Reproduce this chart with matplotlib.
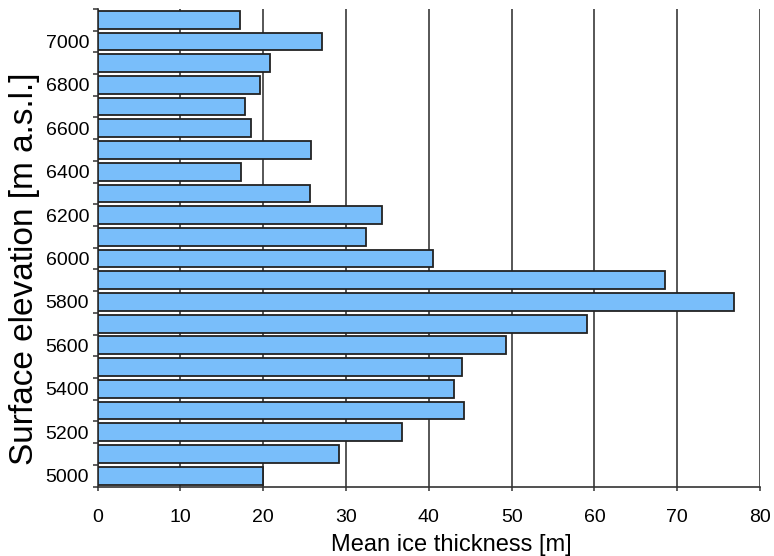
# mean ice thickness per 100 m elevation band
# horizontal bars, labels every 200 m

import matplotlib
matplotlib.use("Agg")
import matplotlib.pyplot as plt

plt.rcParams["font.family"] = ["Liberation Sans", "DejaVu Sans"]

# elevation bands (m a.s.l.), lowest first
elevations = [5000, 5100, 5200, 5300, 5400, 5500, 5600, 5700, 5800, 5900, 6000,
              6100, 6200, 6300, 6400, 6500, 6600, 6700, 6800, 6900, 7000, 7100]
# mean ice thickness (m) for each band
thickness = [20.0, 29.2, 36.8, 44.3, 43.1, 44.0, 49.3, 59.1, 76.9, 68.5, 40.5,
             32.4, 34.3, 25.6, 17.3, 25.8, 18.5, 17.8, 19.6, 20.8, 27.1, 17.2]

x_ticks = [0, 10, 20, 30, 40, 50, 60, 70, 80]

fig = plt.figure(figsize=(7.74, 5.56), dpi=100)
ax = fig.add_axes([0.126, 0.125, 0.856, 0.859])

positions = list(range(len(elevations)))
ax.barh(positions, thickness, height=0.82, color="#79BEFA",
        edgecolor="#222222", linewidth=1.3, zorder=3)

ax.set_xlim(0, 80)
ax.set_ylim(-0.5, len(elevations) - 0.5)

# x axis
ax.set_xticks(x_ticks)
ax.tick_params(axis="x", which="major", direction="out", length=3,
               width=1.1, color="#333333", labelsize=14, pad=13.5)
ax.grid(axis="x", color="#3a3a3a", linewidth=1.2, zorder=0)
ax.set_axisbelow(True)

# y axis: labels in the middle of every second band, ticks on band edges
label_pos = [p for p in positions if elevations[p] % 200 == 0]
ax.set_yticks(label_pos)
ax.set_yticklabels([str(elevations[p]) for p in label_pos])
ax.set_yticks([p - 0.5 for p in positions] + [positions[-1] + 0.5], minor=True)
ax.tick_params(axis="y", which="major", length=0, labelsize=14, pad=6)
ax.tick_params(axis="y", which="minor", direction="out", length=3.5,
               width=1.1, color="#333333")

for side in ["top", "right"]:
    ax.spines[side].set_visible(False)
for side in ["left", "bottom"]:
    ax.spines[side].set_color("#333333")
    ax.spines[side].set_linewidth(1.2)

ax.set_xlabel("Mean ice thickness [m]", fontsize=17, labelpad=5.5)
ax.xaxis.label.set_x(0.534)
ax.set_ylabel("Surface elevation [m a.s.l.]", fontsize=24, labelpad=4)
ax.yaxis.label.set_y(0.455)

fig.savefig("out.png", dpi=100)
